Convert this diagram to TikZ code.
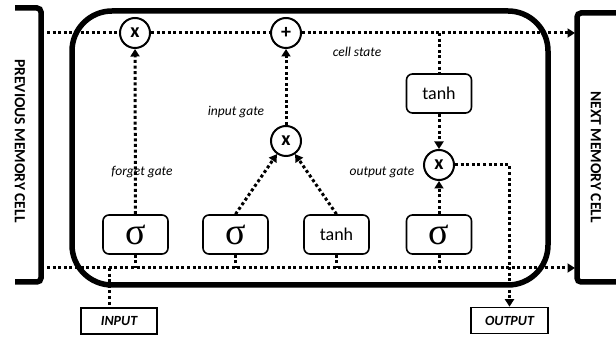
\documentclass[tikz,border=0pt]{standalone}
\usepackage{fontspec}
\setmainfont{Carlito}
\newfontfamily\sigmafont{Liberation Serif}
\usetikzlibrary{arrows.meta,calc}
\newcommand\sigmasym{{\sigmafont\fontsize{38}{38}\selectfont σ}}
\tikzset{
	flow/.style={line width=3pt, dash pattern=on 3pt off 2.6pt},
	flowarrow/.style={flow, -{Triangle[width=9pt,length=7.5pt]}},
	gatebox/.style={draw, line width=1.6pt, rounded corners=6pt, fill=white,
			minimum width=65pt, minimum height=39pt, inner sep=0pt},
	pointwise/.style={draw, circle, line width=2pt, fill=white,
			minimum size=30pt, inner sep=0pt, font=\fontsize{20}{20}\selectfont\bfseries}
}

\begin{document}
\begin{tikzpicture}[
    x=1pt, y=1pt,
    gatelabel/.style={font=\fontsize{13.5}{13.5}\selectfont\itshape},
    iobox/.style={draw, line width=1.6pt, minimum height=26pt, inner sep=0pt,
        font=\fontsize{14}{14}\selectfont\bfseries\itshape},
    sidetext/.style={rotate=-90, font=\fontsize{15.5}{15.5}\selectfont\bfseries},
    ]
    \useasboundingbox (0,0) rectangle (616,337);

    % cell frame and the two memory cells
    \draw[line width=5.5pt, rounded corners=40pt] (72,52) rectangle (548,326);
    \draw[line width=5.5pt, rounded corners=4pt] (15,329) -- (41,329) -- (41,55) -- (15,55);
    \draw[line width=5.5pt, rounded corners=4pt] (616,324) -- (577,324) -- (577,55) -- (616,55);
    \node[sidetext] (prevcell) at (20,196) {PREVIOUS MEMORY CELL};
    \node[sidetext] (nextcell) at (596,180) {NEXT MEMORY CELL};

    % pointwise operations
    \node[pointwise] (forgetx) at (135,304) {x};
    \node[pointwise] (plus) at (286,304) {+};
    \node[pointwise] (inputx) at (286,196) {x};
    \node[pointwise] (outputx) at (439,172) {x};

    % layers
    \node[gatebox] (forgetsig) at (135.5,102.5) {\sigmasym};
    \node[gatebox] (inputsig) at (235.5,102.5) {\sigmasym};
    \node[gatebox, font=\fontsize{18}{18}\selectfont] (inputtanh) at (336.5,102.5) {tanh};
    \node[gatebox] (outputsig) at (439,102.5) {\sigmasym};
    \node[gatebox, font=\fontsize{18}{18}\selectfont] (celltanh) at (439,243.5) {tanh};

    \node[gatelabel] (forgetlabel) at (142,165) {forget gate};
    \node[gatelabel] (inputlabel) at (236,225) {input gate};
    \node[gatelabel] (celllabel) at (357,285) {cell state};
    \node[gatelabel] (outputlabel) at (382,165) {output gate};

    \node[iobox, minimum width=76pt] (input) at (119,16) {INPUT};
    \node[iobox, minimum width=77pt] (output) at (509.5,16.5) {OUTPUT};

    \coordinate (cellin) at (47,304);
    \coordinate (cellout) at (575,304);
    \coordinate (celltap) at (439,304);
    \coordinate (hiddenin) at (47,69);
    \coordinate (hiddenout) at (575,69);
    \coordinate (inputtap) at (109,69);

    % cell state and hidden state
    \draw[flowarrow] (cellin) -- (forgetx) -- (plus) -- (cellout);
    \draw[flowarrow] (hiddenin) -- (hiddenout);
    \draw[flow] (inputtap) -- (inputtap |- input.north);
    \foreach \g in {forgetsig, inputsig, inputtanh, outputsig}
        \draw[flow] (\g) -- (\g |- hiddenin);

    % gates
    \draw[flowarrow] (forgetsig) -- (forgetx);
    \draw[flowarrow] (inputsig.north) -- (inputx);
    \draw[flowarrow] (inputtanh.north) -- (inputx);
    \draw[flowarrow] (inputx) -- (plus);
    \draw[flow] (celltap) -- (celltanh);
    \draw[flowarrow] (celltanh) -- (outputx);
    \draw[flowarrow] (outputsig) -- (outputx);
    \draw[flowarrow] (outputx) -| (output);
\end{tikzpicture}
\end{document}
